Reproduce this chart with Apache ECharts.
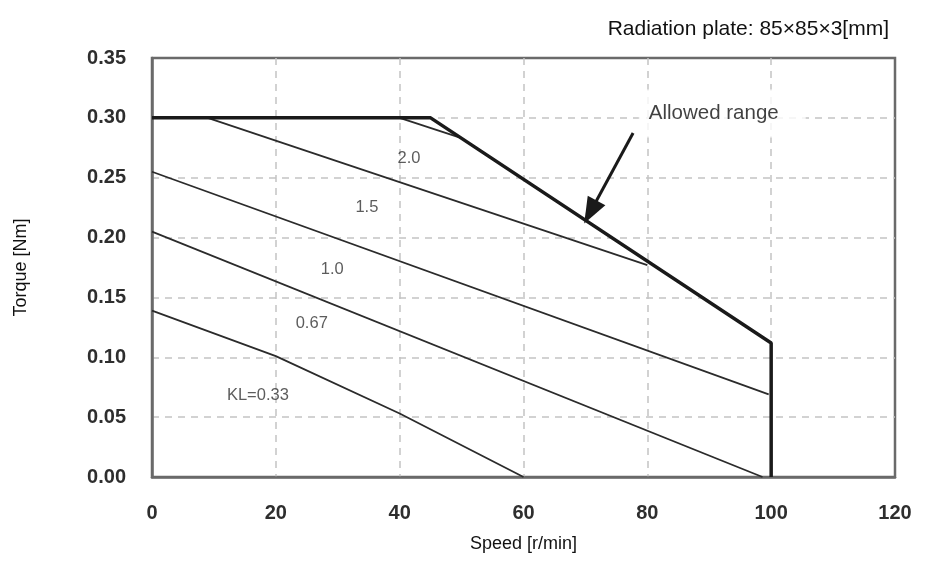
<!DOCTYPE html>
<html><head><meta charset="utf-8">
<script src="https://cdn.jsdelivr.net/npm/echarts@6/dist/echarts.min.js"></script>
<style>html,body{margin:0;padding:0;background:#fff}#c{width:930px;height:563px}</style>
</head><body><div id="c"></div>
<script>
// Allowed range boundary (speed, torque)
const allowedSpeed  = [0, 45, 100, 100];
const allowedTorque = [0.30, 0.30, 0.112, 0];
// KL curves
const kl20Speed = [40, 50];      const kl20Torque = [0.30, 0.283];
const kl15Speed = [9, 80];       const kl15Torque = [0.30, 0.177];
const kl10Speed = [0, 99.6];     const kl10Torque = [0.255, 0.069];
const kl067Speed = [0, 98.6];    const kl067Torque = [0.205, 0];
const kl033Speed = [0, 20, 40, 60]; const kl033Torque = [0.139, 0.101, 0.053, 0];
// Curve labels
const labelText  = ['2.0', '1.5', '1.0', '0.67', 'KL=0.33'];
const labelSpeed = [41.5, 34.7, 29.1, 25.8, 17.1];
const labelTorque= [0.266, 0.2255, 0.173, 0.1285, 0.0685];
// Annotation arrow (from, to) in data units
const arrowFrom = [77.7, 0.2874];
const arrowTo   = [70.8, 0.2214];
const annotText = 'Allowed range';
const annotPos  = [92.1, 0.3037];

const zip = (a, b) => a.map((v, i) => [v, b[i]]);
const thin = (name, xs, ys) => ({
  name, type: 'line', data: zip(xs, ys), symbol: 'none', silent: true,
  lineStyle: { color: '#2b2b2b', width: 1.8 }, z: 3
});
const FONT = 'Liberation Sans, Arial, sans-serif';

const chart = echarts.init(document.getElementById('c'), null, { renderer: 'canvas' });
chart.setOption({
  animation: false,
  backgroundColor: '#fff',
  textStyle: { fontFamily: FONT },
  title: {
    text: 'Radiation plate: 85×85×3[mm]', right: 36, top: 14,
    textStyle: { fontSize: 21, fontWeight: 'normal', color: '#111', fontFamily: FONT }
  },
  grid: { left: 152, right: 35, top: 58, bottom: 86, show: true, borderColor: '#6a6a6a', borderWidth: 2.5 },
  xAxis: {
    type: 'value', min: 0, max: 120, interval: 20,
    name: 'Speed [r/min]', nameLocation: 'middle', nameGap: 58,
    nameTextStyle: { fontSize: 18, color: '#111' },
    axisLine: { show: true, lineStyle: { color: '#6a6a6a', width: 2.5 } },
    axisTick: { show: false },
    axisLabel: { margin: 26, fontSize: 20, fontWeight: 'bold', color: '#2e2e2e' },
    splitLine: { show: true, showMinLine: false, showMaxLine: false, lineStyle: { color: '#c4c4c4', type: [7, 6], width: 1.5 } }
  },
  yAxis: {
    type: 'value', min: 0, max: 0.35, interval: 0.05,
    name: 'Torque [Nm]', nameLocation: 'middle', nameGap: 122, nameRotate: 90,
    nameTextStyle: { fontSize: 18, color: '#111' },
    axisLine: { show: true, lineStyle: { color: '#6a6a6a', width: 2.5 } },
    axisTick: { show: false },
    axisLabel: { margin: 26, fontSize: 20, fontWeight: 'bold', color: '#2e2e2e', formatter: v => v.toFixed(2) },
    splitLine: { show: true, showMinLine: false, showMaxLine: false, lineStyle: { color: '#c4c4c4', type: [7, 6], width: 1.5 } }
  },
  series: [
    thin('KL=2.0', kl20Speed, kl20Torque),
    thin('KL=1.5', kl15Speed, kl15Torque),
    thin('KL=1.0', kl10Speed, kl10Torque),
    thin('KL=0.67', kl067Speed, kl067Torque),
    thin('KL=0.33', kl033Speed, kl033Torque),
    {
      name: 'Allowed', type: 'line', data: zip(allowedSpeed, allowedTorque), symbol: 'none', silent: true,
      lineStyle: { color: '#1a1a1a', width: 3.5 }, z: 4,
      markLine: {
        silent: true, symbol: ['none', 'triangle'], symbolSize: [20, 26],
        lineStyle: { color: '#1a1a1a', width: 3, type: 'solid' }, label: { show: false },
        data: [[{ coord: arrowFrom }, { coord: arrowTo }]]
      }
    },
    {
      name: 'labels', type: 'scatter', symbolSize: 0, silent: true, z: 5,
      data: labelText.map((t, i) => ({ value: [labelSpeed[i], labelTorque[i]], name: t })),
      label: { show: true, position: 'inside', formatter: p => p.name, fontSize: 16.5, color: '#333' }
    },
    {
      name: 'annot', type: 'scatter', symbolSize: 0, silent: true, z: 6,
      data: [{ value: annotPos, name: annotText }],
      label: { show: true, position: 'inside', formatter: p => p.name, fontSize: 20.5, color: '#111',
               backgroundColor: '#fff', padding: [7, 27, 20, 10] }
    }
  ]
});
</script></body></html>
